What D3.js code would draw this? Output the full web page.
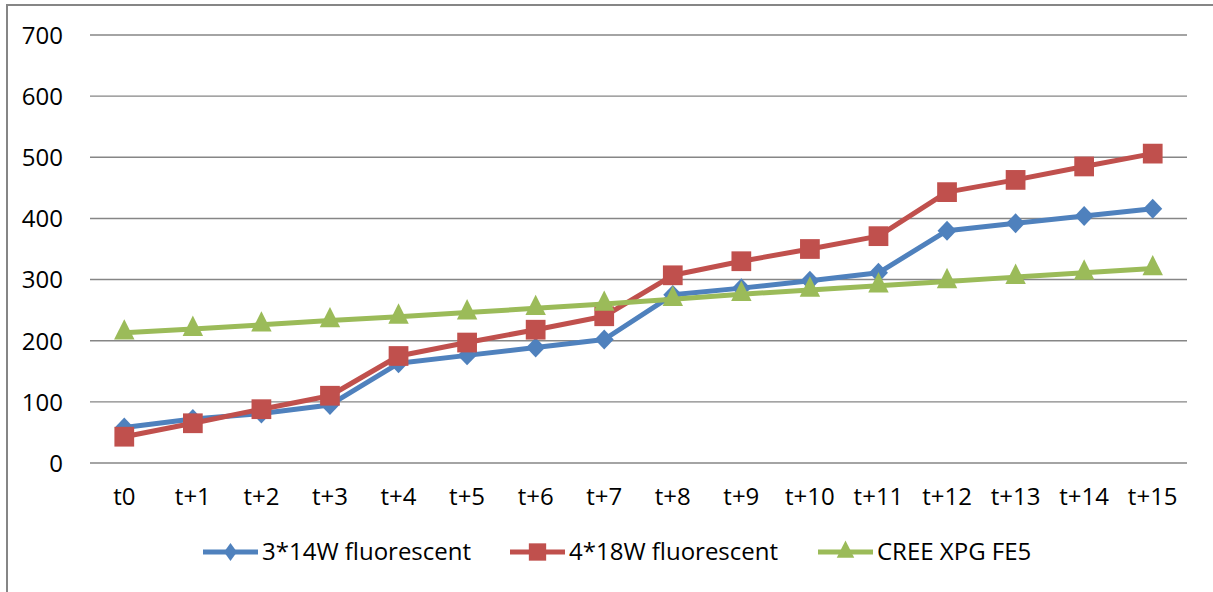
<!DOCTYPE html>
<html>
<head>
<meta charset="utf-8">
<script src="https://cdn.jsdelivr.net/npm/d3@7"></script>
<style>
  html, body { margin: 0; padding: 0; background: #fff; }
  svg { display: block; }
  text { font-family: "Open Sans", "Noto Sans", sans-serif; fill: #000; }
</style>
</head>
<body>
<script>
// Time steps on the x axis
const categories = ["t0","t+1","t+2","t+3","t+4","t+5","t+6","t+7","t+8","t+9","t+10","t+11","t+12","t+13","t+14","t+15"];

// Measured values for each light source
const fluo3x14 = [58, 72, 81, 95, 163, 176, 189, 202, 275, 286, 298, 311, 380, 392, 404, 416];
const fluo4x18 = [43, 65, 88, 110, 175, 197, 218, 240, 307, 330, 350, 371, 443, 463, 485, 506];
const creeXpg = [213, 219, 226, 233, 239, 246, 253, 260, 268, 276, 283, 290, 297, 304, 311, 318];

const seriesNames = ["3*14W fluorescent", "4*18W fluorescent", "CREE XPG FE5"];
const yTicks = [0, 100, 200, 300, 400, 500, 600, 700];

const W = 1213, H = 592;
const plot = { left: 90, right: 1187, top: 35, bottom: 463 };

const series = [
  { name: seriesNames[0], values: fluo3x14, color: "#4F81BD", symbol: d3.symbolDiamond, size: 115, sx: 1.65, lsize: 93, lsx: 1.25 },
  { name: seriesNames[1], values: fluo4x18, color: "#C0504D", symbol: d3.symbolSquare, size: 390, sx: 1, lsize: 300, lsx: 1 },
  { name: seriesNames[2], values: creeXpg, color: "#9BBB59", symbol: d3.symbolTriangle, size: 240, sx: 0.87, lsize: 175, lsx: 0.87 }
];

const svg = d3.select("body").append("svg").attr("width", W).attr("height", H);

// Outer chart frame
svg.append("rect")
  .attr("x", 7).attr("y", 5).attr("width", 1400).attr("height", 800)
  .attr("fill", "#fff").attr("stroke", "#868686").attr("stroke-width", 2);

const x = d3.scaleBand().domain(categories).range([plot.left, plot.right]);
const y = d3.scaleLinear().domain([0, 700]).range([plot.bottom, plot.top]);

// Horizontal gridlines
svg.append("g").selectAll("line").data(yTicks).join("line")
  .attr("x1", plot.left).attr("x2", plot.right)
  .attr("y1", d => y(d)).attr("y2", d => y(d))
  .attr("stroke", "#868686").attr("stroke-width", 1.4);

// Y axis labels
const yAxis = svg.append("g").attr("transform", `translate(${plot.left - 27},0)`)
  .call(d3.axisLeft(y).tickValues(yTicks).tickSize(0).tickPadding(0));
yAxis.select(".domain").remove();
yAxis.selectAll("text").style("font-size", "24px").attr("dy", "0.35em").attr("fill", "#000");

// X axis labels
const xAxis = svg.append("g").attr("transform", `translate(0,${plot.bottom})`)
  .call(d3.axisBottom(x).tickSize(0).tickPadding(0));
xAxis.select(".domain").remove();
xAxis.selectAll("text").style("font-size", "24px").attr("y", 42).attr("dy", "0").attr("fill", "#000");

const cx = d => x(d) + x.bandwidth() / 2;
const line = d3.line().x((d, i) => cx(categories[i])).y(d => y(d));

series.forEach(s => {
  const g = svg.append("g");
  g.append("path").datum(s.values)
    .attr("d", line).attr("fill", "none")
    .attr("stroke", s.color).attr("stroke-width", 5).attr("stroke-linejoin", "round");
  g.selectAll("path.mk").data(s.values).join("path").attr("class", "mk")
    .attr("d", d3.symbol().type(s.symbol).size(s.size))
    .attr("transform", (d, i) => `translate(${cx(categories[i])},${y(d)}) scale(${s.sx},1)`)
    .attr("fill", s.color);
});

// Legend
const legendX = [203, 510, 818];
const legendY = 552;
series.forEach((s, i) => {
  const g = svg.append("g").attr("transform", `translate(${legendX[i]},${legendY})`);
  g.append("line").attr("x1", 0).attr("x2", 55).attr("y1", 0).attr("y2", 0)
    .attr("stroke", s.color).attr("stroke-width", 5);
  g.append("path").attr("d", d3.symbol().type(s.symbol).size(s.lsize))
    .attr("transform", `translate(27.5,0) scale(${s.lsx},1)`).attr("fill", s.color);
  g.append("text").attr("x", 59).attr("y", 0).attr("dy", "0.35em")
    .style("font-size", "24px").text(s.name);
});
</script>
</body>
</html>
